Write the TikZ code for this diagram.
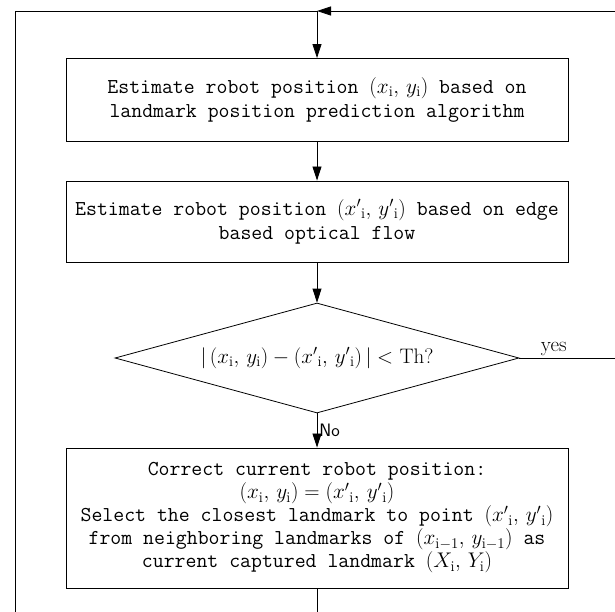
\documentclass[tikz,border=0pt]{standalone}
\usepackage{fix-cm}
\usepackage{fontspec}
\usetikzlibrary{arrows.meta,shapes.geometric}
\newcommand{\boxfnt}{\fontsize{21.2}{24}\selectfont\ttfamily}
\newcommand{\mi}{\mathrm{i}}
\newcommand{\xp}{x'{}_{\mi}}
\newcommand{\yp}{y'{}_{\mi}}
\begin{document}
\begin{tikzpicture}[x=1pt,y=-1pt,
  box/.style={draw, line width=0.9pt, minimum width=502pt, inner sep=0pt, align=center, font=\boxfnt},
  arr/.style={-{Triangle[length=14pt,width=9pt]}, line width=0.8pt},
  ln/.style={line width=0.8pt},
  lbl/.style={inner sep=2pt}]
\useasboundingbox (0,0) rectangle (615,612);
\node[box, minimum height=83pt] (b1) at (317,100)
  {Estimate robot position $(x_{\mi},\, y_{\mi})$ based on\\landmark position prediction algorithm};
\node[box, minimum height=81pt] (b2) at (317,221.5)
  {Estimate robot position $(\xp,\, \yp)$ based on edge\\based optical flow};
\node[diamond, draw, line width=0.8pt, shape aspect=3.6, minimum width=404pt, minimum height=110pt, inner sep=0pt,
  font=\fontsize{21}{22}\selectfont\rmfamily] (dec) at (317,358)
  {$|\,(x_{\mi},\, y_{\mi})-(\xp,\, \yp)\,|<$ Th?};
\node[box, minimum height=140pt, font=\fontsize{21.2}{23}\selectfont\ttfamily] (b3) at (317,518)
  {Correct current robot position:\\
   $(x_{\mi},\, y_{\mi})=(\xp,\, \yp)$\\
   Select the closest landmark to point $(\xp,\, \yp)$\\
   from neighboring landmarks of $(x_{\mi-1},\, y_{\mi-1})$ as\\
   current captured landmark $(X_{\mi},\, Y_{\mi})$};
\coordinate (topc) at (317,11);
\coordinate (tl) at (15,11);
\coordinate (bl) at (15,612);
\coordinate (tr) at (615,11);
\coordinate (yesend) at (615,358);
\coordinate (botc) at (317,612);
\draw[arr] (topc) -- (b1.north);
\draw[arr] (b1.south) -- (b2.north);
\draw[arr] (b2.south) -- (dec.north);
\draw[arr] (dec.south) -- node[lbl, right, font=\fontsize{18}{20}\selectfont\sffamily]{No} (b3.north);
\draw[ln] (dec.east) -- node[lbl, above, pos=0.36, font=\fontsize{21}{22}\selectfont\rmfamily]{yes} (yesend);
\draw[arr] (tr) -- (topc);
\draw[ln] (b3.south) -- (botc);
\draw[ln] (bl) -- (tl) -- (topc);
\end{tikzpicture}
\end{document}
